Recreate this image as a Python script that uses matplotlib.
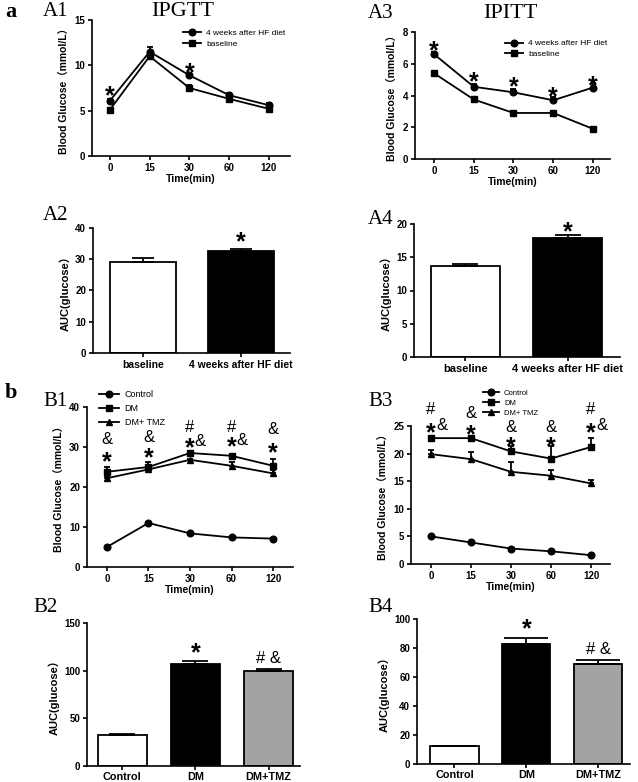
import numpy as np
import matplotlib
matplotlib.use('Agg')
import matplotlib.pyplot as plt

plt.rcParams['font.family'] = ['Liberation Sans', 'Noto Sans CJK SC']
plt.rcParams['font.weight'] = 'bold'
plt.rcParams['axes.labelweight'] = 'bold'
plt.rcParams['axes.linewidth'] = 1.2

W, H = 638, 782

# ---- data ----
time_labels = ['0', '15', '30', '60', '120']

# A1 IPGTT
ipgtt_hf = [6.1, 11.5, 8.9, 6.7, 5.6]
ipgtt_hf_err = [0.2, 0.5, 0.3, 0.3, 0.2]
ipgtt_base = [5.1, 11.0, 7.5, 6.3, 5.2]
ipgtt_base_err = [0.1, 0.3, 0.3, 0.2, 0.1]

# A3 IPITT
ipitt_hf = [6.6, 4.55, 4.2, 3.7, 4.5]
ipitt_hf_err = [0.15, 0.15, 0.2, 0.2, 0.3]
ipitt_base = [5.4, 3.75, 2.9, 2.9, 1.9]
ipitt_base_err = [0.05, 0.05, 0.15, 0.1, 0.05]

# A2 / A4 AUC
auc_a_groups = ['baseline', '4 weeks after HF diet']
auc_a2 = [29.2, 32.7]
auc_a2_err = [1.1, 0.7]
auc_a4 = [13.7, 17.9]
auc_a4_err = [0.3, 0.5]

# B1 IPGTT (Control / DM / DM+TMZ)
b1_control = [5.0, 11.0, 8.4, 7.4, 7.1]
b1_control_err = [0.1, 0.2, 0.2, 0.2, 0.2]
b1_dm = [23.8, 25.0, 28.5, 27.8, 25.3]
b1_dm_err = [1.2, 1.2, 0.3, 0.4, 1.7]
b1_tmz = [22.2, 24.4, 26.8, 25.3, 23.4]
b1_tmz_err = [0.6, 0.5, 0.3, 1.0, 0.8]

# B3 IPITT
b3_control = [5.0, 3.9, 2.8, 2.3, 1.6]
b3_control_err = [0.1, 0.1, 0.1, 0.1, 0.1]
b3_dm = [22.8, 22.8, 20.4, 19.1, 21.2]
b3_dm_err = [0.1, 0.3, 0.9, 2.2, 1.7]
b3_tmz = [19.9, 19.0, 16.7, 16.0, 14.6]
b3_tmz_err = [0.7, 1.3, 1.8, 1.0, 0.7]

# B2 / B4 AUC
auc_b_groups = ['Control', 'DM', 'DM+TMZ']
auc_b2 = [33, 107, 100]
auc_b2_err = [1, 3, 1.5]
auc_b4 = [12.2, 82.8, 69.0]
auc_b4_err = [0.4, 4.2, 3.0]
bar_colors_b = ['white', 'black', '#a3a3a3']

fig = plt.figure(figsize=(W / 100, H / 100), dpi=100)


def rect(l, t, r, b):
    return [l / W, 1 - b / H, (r - l) / W, (b - t) / H]


def style(ax, ymax, ystep):
    ax.set_ylim(0, ymax)
    ax.set_yticks(np.arange(0, ymax + 0.01, ystep))
    ax.spines[['top', 'right']].set_visible(False)
    ax.tick_params(direction='out', length=3, width=1.2, pad=2)
    for t in ax.get_yticklabels():
        t.set_fontsize(7)
        t.set_fontweight('bold')


def line_panel(r, series, ymax, ystep, xlim, leg_anchor, leg_fs, leg_sp):
    ax = fig.add_axes(rect(*r))
    x = np.arange(len(time_labels))
    for vals, errs, mk, lab in series:
        ax.errorbar(x, vals, yerr=[np.zeros(len(errs)), errs], fmt='none',
                    ecolor='k', elinewidth=1.3, capsize=2.5, capthick=1.3, clip_on=False)
        ax.plot(x, vals, '-', color='k', marker=mk, ms=4.8, lw=1.3, label=lab, clip_on=False)
    ax.set_xlim(*xlim)
    ax.set_xticks(x)
    ax.set_xticklabels(time_labels, fontsize=7, fontweight='bold')
    style(ax, ymax, ystep)
    ax.set_xlabel('Time(min)', fontsize=7.5, fontweight='bold', labelpad=1)
    ax.set_ylabel('Blood Glucose（mmol/L）', fontsize=7.5, fontweight='bold', labelpad=3)
    ax.legend(loc='upper left', bbox_to_anchor=leg_anchor, frameon=False,
              prop={'size': leg_fs, 'weight': 'normal'}, handlelength=2.2,
              handletextpad=0.6, borderaxespad=0, borderpad=0, labelspacing=leg_sp)
    return ax


def bar_panel(r, groups, vals, errs, colors, ymax, ystep, xlim, cap, fs, pad=2):
    ax = fig.add_axes(rect(*r))
    x = np.arange(len(groups))
    ax.bar(x, vals, width=0.67, color=colors, edgecolor='k', linewidth=1.3, zorder=2)
    ax.errorbar(x, vals, yerr=[np.zeros(len(errs)), errs], fmt='none', ecolor='k',
                elinewidth=1.3, capsize=cap, capthick=1.3, zorder=3, clip_on=False)
    ax.set_xlim(*xlim)
    ax.set_xticks(x)
    ax.set_xticklabels(groups, fontsize=fs, fontweight='bold')
    style(ax, ymax, ystep)
    ax.tick_params(axis='x', pad=pad)
    ax.set_ylabel('AUC(glucose）', fontsize=8, fontweight='bold', labelpad=3)
    return ax


def mark(ax, x, y, s, size=14, weight='normal'):
    ax.text(x, y, s, ha='center', va='center', fontsize=size, fontweight=weight,
            clip_on=False)


star = 18
sym = 12


def stars(ax, pts):
    for i, y in pts:
        mark(ax, i, y, '*', star, 'bold')


# ---- A1 ----
a1 = line_panel((92, 20, 290, 156),
                [(ipgtt_hf, ipgtt_hf_err, 'o', '4 weeks after HF diet'),
                 (ipgtt_base, ipgtt_base_err, 's', 'baseline')],
                15, 5, (-0.45, 4.53), (0.46, 0.93), 6, 0.35)
stars(a1, [(0, 6.6), (2, 9.1)])

# ---- A3 ----
a3 = line_panel((415, 32, 610, 159),
                [(ipitt_hf, ipitt_hf_err, 'o', '4 weeks after HF diet'),
                 (ipitt_base, ipitt_base_err, 's', 'baseline')],
                8, 2, (-0.48, 4.43), (0.46, 0.94), 6, 0.35)
stars(a3, [(0, 6.8), (1, 4.8), (2, 4.5), (3, 3.9), (4, 4.6)])

# ---- A2 / A4 ----
a2 = bar_panel((93, 228, 290, 353), auc_a_groups, auc_a2, auc_a2_err,
               ['white', 'black'], 40, 10, (-0.51, 1.5), 8, 7.5)
stars(a2, [(1, 35.5)])
a4 = bar_panel((414, 224, 620, 357), auc_a_groups, auc_a4, auc_a4_err,
               ['white', 'black'], 20, 5, (-0.5, 1.51), 9.5, 8)
stars(a4, [(1, 18.8)])

# ---- B1 ----
b1 = line_panel((87, 407, 293, 567),
                [(b1_control, b1_control_err, 'o', 'Control'),
                 (b1_dm, b1_dm_err, 's', 'DM'),
                 (b1_tmz, b1_tmz_err, '^', 'DM+ TMZ')],
                40, 10, (-0.48, 4.48), (0.06, 1.105), 6.5, 0.55)
stars(b1, [(0, 26.2), (1, 27.2), (2, 29.6), (3, 30.0), (4, 28.4)])
for i, y in [(0, 32), (1, 32.5), (4, 34.5)]:
    mark(b1, i, y, '&', sym)
for i, y in [(2, 31.3), (3, 31.6)]:
    mark(b1, i + 0.24, y, '&', sym)
for i in [2, 3]:
    mark(b1, i, 35, '#', sym)

# ---- B3 ----
b3 = line_panel((411, 426, 610, 564),
                [(b3_control, b3_control_err, 'o', 'Control'),
                 (b3_dm, b3_dm_err, 's', 'DM'),
                 (b3_tmz, b3_tmz_err, '^', 'DM+ TMZ')],
                25, 5, (-0.5, 4.475), (0.36, 1.265), 5.5, 0.35)
stars(b3, [(0, 23.6), (1, 23.4), (2, 21.2), (3, 21.2), (4, 23.6)])
for i, y in [(1, 27.2), (2, 24.8), (3, 24.8)]:
    mark(b3, i, y, '&', sym)
for i in [0, 4]:
    mark(b3, i + 0.27, 25, '&', sym)
    mark(b3, i, 27.9, '#', sym)

# ---- B2 / B4 ----
b2 = bar_panel((87, 623, 300, 766), auc_b_groups, auc_b2, auc_b2_err,
               bar_colors_b, 150, 50, (-0.48, 2.43), 9.5, 7.8, pad=1)
stars(b2, [(1, 118)])
mark(b2, 2, 113, '# &', sym)
b4 = bar_panel((417, 619, 630, 764), auc_b_groups, auc_b4, auc_b4_err,
               bar_colors_b, 100, 20, (-0.52, 2.44), 16, 7.8, pad=1.5)
stars(b4, [(1, 93)])
mark(b4, 2, 79, '# &', sym)

# ---- panel labels ----
serif = 'Liberation Serif'


def label(px, py, s, size, weight='normal'):
    fig.text(px / W, 1 - py / H, s, fontsize=size, family=serif, fontweight=weight,
             ha='left', va='center')


label(5, 12, 'a', 16, 'bold')
label(5, 393, 'b', 16, 'bold')
label(43, 12, 'A1', 15)
label(368, 14, 'A3', 15)
label(43, 215, 'A2', 15)
label(368, 220, 'A4', 15)
label(43, 402, 'B1', 15)
label(368, 402, 'B3', 15)
label(33, 608, 'B2', 15)
label(368, 608, 'B4', 15)
fig.text(183 / W, 1 - 11 / H, 'IPGTT', fontsize=16, family=serif, fontweight='normal',
         ha='center', va='center')
fig.text(510 / W, 1 - 13 / H, 'IPITT', fontsize=16, family=serif, fontweight='normal',
         ha='center', va='center')

fig.savefig('out.png', dpi=100)
